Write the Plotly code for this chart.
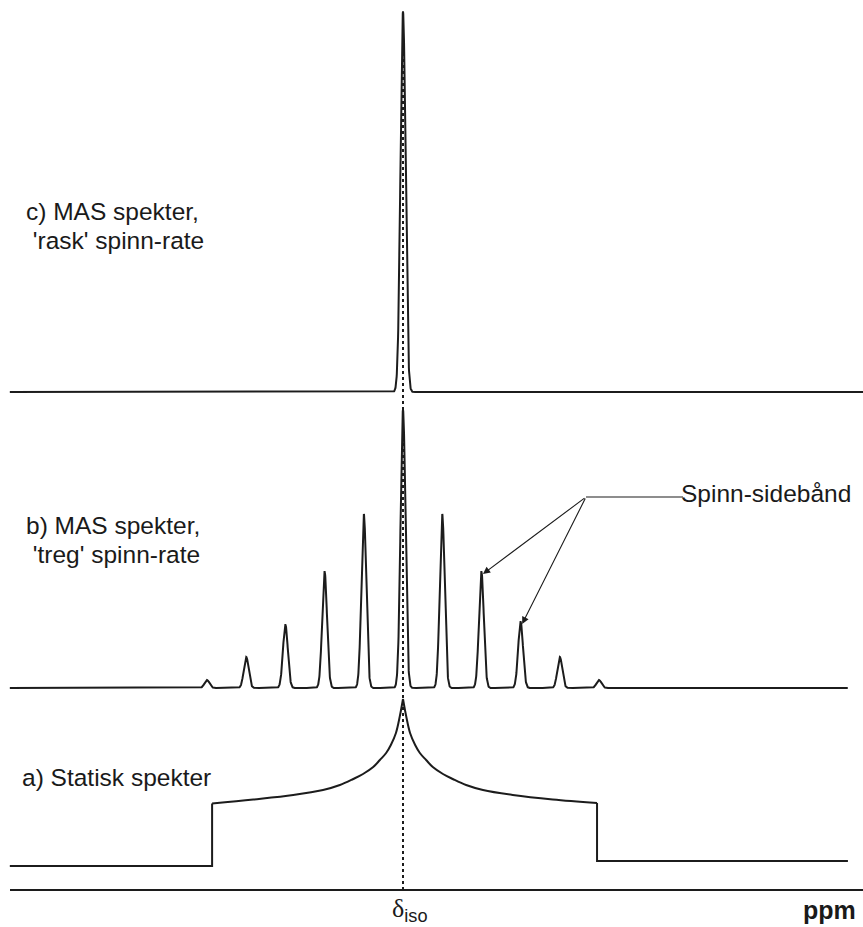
import numpy as np
import plotly.graph_objects as go

# ---------------- data ----------------
# c) fast MAS: one isotropic line
fast_mas_height = 380
fast_mas_sigma_ppm = 0.64

# b) slow MAS: centre band + spinning sidebands (order n, height)
sideband_order = [-5, -4, -3, -2, -1, 0, 1, 2, 3, 4, 5]
sideband_height = [8, 31, 63, 116, 174, 278, 174, 116, 66, 31, 8]
spin_rate_ppm = 10.0
sideband_sigma_ppm = 0.62

# a) static powder pattern (offset from delta_iso in ppm, intensity)
static_offset_ppm = [0.0, 0.8, 1.8, 3.1, 4.3, 5.9, 7.6, 10.2, 12.7, 16.1, 20.4, 28.0, 38.2]
static_intensity = [167, 150, 133, 121, 113, 106, 99, 92, 87, 81, 76, 71, 66.5]
static_edge_ppm = [-48.7, 49.5]
static_edge_intensity = [62.5, 63]
static_baseline = [0, 5]

# spectrum window (ppm)
ppm_start, ppm_end = -100.3, 113.5

# labels
label_c = ["c) MAS spekter,", " 'rask' spinn-rate"]
label_b = ["b) MAS spekter,", " 'treg' spinn-rate"]
label_a = ["a) Statisk spekter"]
sideband_label = "Spinn-sidebånd"
arrow_orders = [2, 3]

# ---------------- layout helpers ----------------
W, H = 863, 927
PX_PER_PPM = 3.92
X0_PX = 403
x_range = [(0 - X0_PX) / PX_PER_PPM, (W - X0_PX) / PX_PER_PPM]
off_c = H - 392
off_b = H - 688
off_a = H - 866
axis_y = H - 890

def px2x(px):
    return (px - X0_PX) / PX_PER_PPM

def py2y(py):
    return H - py

LINE = "#1c1c1c"
FONT = "Liberation Sans, Arial, Helvetica, sans-serif"

fig = go.Figure()

# c) fast MAS
xc = np.arange(ppm_start, px2x(W + 2), 0.04)
yc = off_c + fast_mas_height * np.exp(-xc**2 / (2 * fast_mas_sigma_ppm**2))
fig.add_trace(go.Scatter(x=xc, y=yc, mode="lines", line=dict(color=LINE, width=2)))

# b) slow MAS
xb = np.arange(ppm_start, ppm_end, 0.04)
yb = np.zeros_like(xb)
for n, h in zip(sideband_order, sideband_height):
    yb += h * np.exp(-(xb - n * spin_rate_ppm) ** 2 / (2 * sideband_sigma_ppm**2))
fig.add_trace(go.Scatter(x=xb, y=off_b + yb, mode="lines", line=dict(color=LINE, width=2)))

# a) static: steps (straight) + two smooth wings meeting in the cusp
fig.add_trace(go.Scatter(
    x=[ppm_start, static_edge_ppm[0], static_edge_ppm[0]],
    y=[off_a + static_baseline[0], off_a + static_baseline[0], off_a + static_edge_intensity[0]],
    mode="lines", line=dict(color=LINE, width=2)))
fig.add_trace(go.Scatter(
    x=[static_edge_ppm[1], static_edge_ppm[1], ppm_end],
    y=[off_a + static_edge_intensity[1], off_a + static_baseline[1], off_a + static_baseline[1]],
    mode="lines", line=dict(color=LINE, width=2)))
left_x = [static_edge_ppm[0]] + [-v for v in static_offset_ppm[::-1]]
left_y = [static_edge_intensity[0]] + static_intensity[::-1]
right_x = static_offset_ppm + [static_edge_ppm[1]]
right_y = static_intensity + [static_edge_intensity[1]]
for wx, wy in ((left_x, left_y), (right_x, right_y)):
    fig.add_trace(go.Scatter(x=wx, y=[off_a + v for v in wy], mode="lines",
                             line=dict(color=LINE, width=2, shape="spline", smoothing=1.0)))

# ppm axis line
fig.add_trace(go.Scatter(x=[px2x(10), px2x(W + 2)], y=[axis_y, axis_y], mode="lines",
                         line=dict(color=LINE, width=2)))

# dotted delta_iso line
fig.add_trace(go.Scatter(x=[0, 0], y=[axis_y, py2y(20)], mode="lines",
                         line=dict(color=LINE, width=2, dash="3px,3px")))

# sideband pointer: horizontal leader + arrows
tail_x, tail_y = px2x(586), py2y(497)
fig.add_trace(go.Scatter(x=[tail_x, px2x(683)], y=[tail_y, tail_y], mode="lines",
                         line=dict(color=LINE, width=1.2)))
for n in arrow_orders:
    h = sideband_height[sideband_order.index(n)]
    fig.add_annotation(x=n * spin_rate_ppm + 0.4, y=off_b + h - 2, xref="x", yref="y",
                       ax=tail_x, ay=tail_y, axref="x", ayref="y", text="",
                       showarrow=True, arrowhead=2, arrowsize=1.3, arrowwidth=1.1,
                       arrowcolor=LINE)

def label(txt, px, py, size=24.5, anchor="left", **kw):
    fig.add_annotation(x=px / W, y=1 - py / H, xref="paper", yref="paper", text=txt,
                       showarrow=False, xanchor=anchor, yanchor="middle",
                       font=dict(family=FONT, size=size, color="#1a1a1a"), **kw)

label(label_c[0], 24, 211)
label(label_c[1], 24, 240)
label(label_b[0], 24, 525)
label(label_b[1], 24, 554)
label(label_a[0], 20, 777)
label(sideband_label, 853, 494, anchor="right")
label("<b>ppm</b>", 858, 910, size=25, anchor="right")
fig.add_annotation(x=px2x(390), y=py2y(910), xref="x", yref="y",
                   text="δ<sub><span style='font-family:Liberation Sans'>iso</span></sub>",
                   showarrow=False, xanchor="left", yanchor="middle",
                   font=dict(family="Liberation Serif, Times New Roman, serif", size=26,
                             color="#1a1a1a"))

fig.update_layout(
    width=W, height=H, margin=dict(l=0, r=0, t=0, b=0),
    paper_bgcolor="white", plot_bgcolor="white", showlegend=False,
    xaxis=dict(range=x_range, visible=False, fixedrange=True),
    yaxis=dict(range=[0, H], visible=False, fixedrange=True),
)
fig.write_html("out.html")
